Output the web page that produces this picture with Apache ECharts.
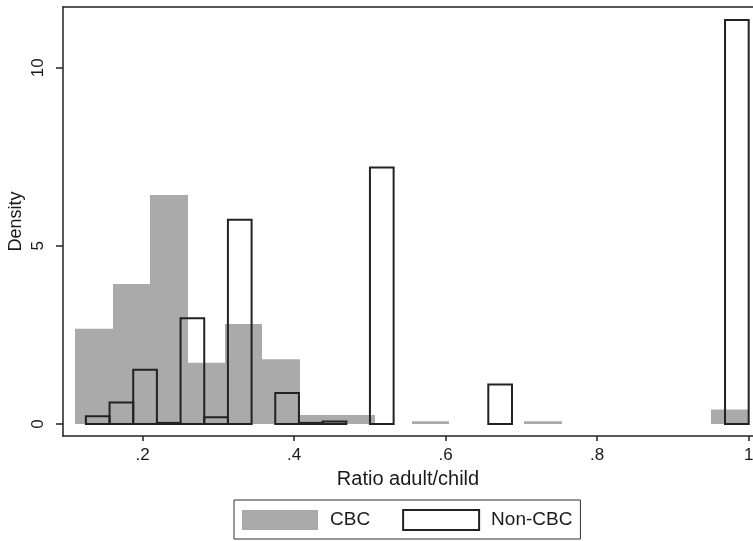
<!DOCTYPE html>
<html>
<head>
<meta charset="utf-8">
<script src="https://cdn.jsdelivr.net/npm/echarts@6/dist/echarts.min.js"></script>
<style>html,body{margin:0;padding:0;background:#fff;}#c{width:753px;height:541px;}</style>
</head>
<body>
<div id="c"></div>
<script>
// CBC histogram: 18 bins starting at 1/9
var cbcStart = 0.1111;
var cbcWidth = 0.04938;
var cbcDensity = [2.67, 3.93, 6.43, 1.72, 2.81, 1.82, 0.25, 0.25, 0, 0.08, 0, 0, 0.08, 0, 0, 0, 0, 0.41];
// Non-CBC histogram: 28 bins starting at 1/8
var nonStart = 0.125;
var nonWidth = 0.03125;
var nonDensity = [0.22, 0.60, 1.52, 0.03, 2.97, 0.19, 5.73, 0, 0.87, 0.03, 0.07, 0, 7.20, 0, 0, 0, 0, 1.11, 0, 0, 0, 0, 0, 0, 0, 0, 0, 11.34];
var xTicks = [0.2, 0.4, 0.6, 0.8, 1];
var yTicks = [0, 5, 10];
var seriesNames = ['CBC', 'Non-CBC'];

function toBins(start, width, dens) {
  return dens.map(function (d, i) { return [start + i * width, start + (i + 1) * width, d]; });
}

function makeRender(fill, stroke, lw, snap) {
  return function (params, api) {
    var x0 = api.value(0), x1 = api.value(1), y = api.value(2);
    if (!y) return null;
    var p0 = api.coord([x0, 0]);
    var p1 = api.coord([x1, y]);
    var a = p0[0], b = p1[0];
    if (snap) { a = Math.round(a); b = Math.round(b); }
    return {
      type: 'rect',
      shape: { x: a, y: p1[1], width: b - a, height: p0[1] - p1[1] },
      style: { fill: fill, stroke: stroke, lineWidth: lw }
    };
  };
}

var textColor = '#1a1a1a';
var chart = echarts.init(document.getElementById('c'));
chart.setOption({
  animation: false,
  backgroundColor: '#fff',
  grid: { left: 63, right: 0, top: 7, bottom: 105, containLabel: false, outerBoundsMode: 'none' },
  xAxis: [{
    type: 'value', min: 0.09479, max: 1.00568,
    name: 'Ratio adult/child', nameLocation: 'middle', nameGap: 33, nameMoveOverlap: false,
    nameTextStyle: { fontFamily: 'Liberation Sans', fontSize: 20, color: textColor },
    axisLine: { show: true, onZero: false, lineStyle: { color: '#222', width: 1.5 } },
    axisTick: { show: true, length: 5, customValues: xTicks, lineStyle: { color: '#222', width: 1.5 } },
    axisLabel: {
      customValues: xTicks, margin: 11, fontFamily: 'Liberation Sans', fontSize: 17, color: textColor,
      formatter: function (v) { return v === 1 ? '1' : String(v).replace(/^0/, ''); }
    },
    splitLine: { show: false }
  }, {
    type: 'value', position: 'top', min: 0.09479, max: 1.00568,
    axisLine: { show: true, onZero: false, lineStyle: { color: '#222', width: 1.5 } },
    axisTick: { show: false }, axisLabel: { show: false }, splitLine: { show: false }
  }],
  yAxis: {
    type: 'value', min: -0.337, max: 11.704,
    name: 'Density', nameLocation: 'middle', nameGap: 38, nameMoveOverlap: false,
    nameTextStyle: { fontFamily: 'Liberation Sans', fontSize: 18, color: textColor },
    axisLine: { show: true, onZero: false, lineStyle: { color: '#222', width: 1.5 } },
    axisTick: { show: true, length: 7, customValues: yTicks, lineStyle: { color: '#222', width: 1.5 } },
    axisLabel: {
      customValues: yTicks, rotate: 90, margin: 16, fontFamily: 'Liberation Sans', fontSize: 17, color: textColor
    },
    splitLine: { show: false }
  },
  legend: {
    left: 234, bottom: 2,
    padding: [9, 8, 8, 8],
    borderColor: '#333', borderWidth: 1,
    itemWidth: 76, itemHeight: 20, itemGap: 32,
    textStyle: { fontFamily: 'Liberation Sans', fontSize: 19, color: textColor, padding: [0, 0, 0, 7] },
    data: [
      { name: seriesNames[0], icon: 'rect', itemStyle: { color: '#aaaaaa', borderWidth: 0 } },
      { name: seriesNames[1], icon: 'rect', itemStyle: { color: '#ffffff', borderColor: '#222', borderWidth: 2 } }
    ]
  },
  series: [{
    name: seriesNames[0], type: 'custom', xAxisIndex: 0,
    renderItem: makeRender('#aaaaaa', null, 0, true),
    encode: { x: [0, 1], y: 2 },
    itemStyle: { color: '#aaaaaa' },
    data: toBins(cbcStart, cbcWidth, cbcDensity)
  }, {
    name: seriesNames[1], type: 'custom', xAxisIndex: 0,
    renderItem: makeRender('none', '#222', 2, false),
    encode: { x: [0, 1], y: 2 },
    itemStyle: { color: '#ffffff', borderColor: '#222', borderWidth: 2 },
    data: toBins(nonStart, nonWidth, nonDensity)
  }]
});
</script>
</body>
</html>
